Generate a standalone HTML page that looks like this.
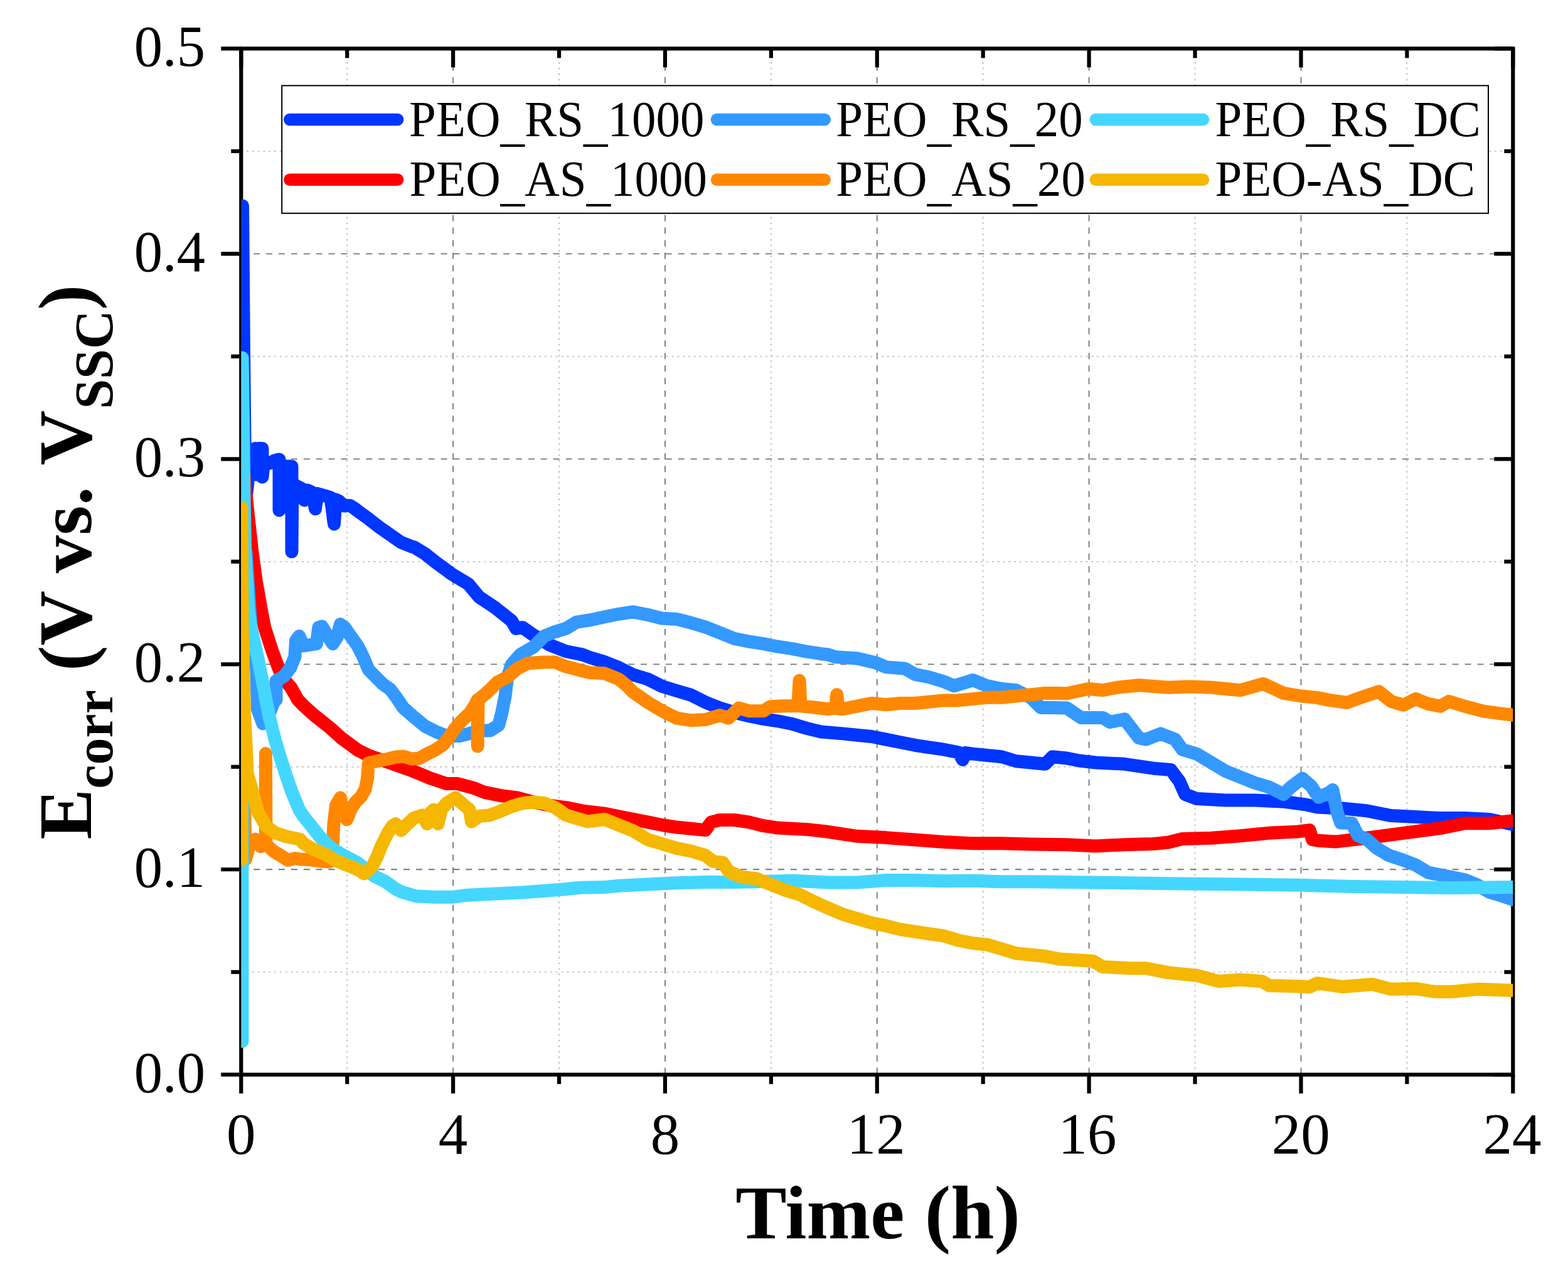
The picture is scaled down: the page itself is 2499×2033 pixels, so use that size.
<!DOCTYPE html>
<html><head><meta charset="utf-8"><title>Ecorr vs Time</title><style>html,body{margin:0;padding:0;background:#fff;overflow:hidden}svg{display:block}</style></head><body>
<svg xmlns="http://www.w3.org/2000/svg" width="2499" height="2033" viewBox="0 0 2499 2033" font-family="Liberation Serif, Times New Roman, serif">
<rect width="2499" height="2033" fill="#fff"/>
<defs><clipPath id="pc"><rect x="384.3" y="77.4" width="2027.0000000000002" height="1634.8"/></clipPath></defs>
<g><line x1="553.22" y1="1712.2" x2="553.22" y2="77.4" stroke="#bdbdbd" stroke-width="1.8" stroke-dasharray="2.8 6"/><line x1="722.13" y1="1712.2" x2="722.13" y2="77.4" stroke="#747474" stroke-width="1.8" stroke-dasharray="9.99 9.99" stroke-dashoffset="-1"/><line x1="891.05" y1="1712.2" x2="891.05" y2="77.4" stroke="#bdbdbd" stroke-width="1.8" stroke-dasharray="2.8 6"/><line x1="1059.97" y1="1712.2" x2="1059.97" y2="77.4" stroke="#747474" stroke-width="1.8" stroke-dasharray="9.99 9.99" stroke-dashoffset="-1"/><line x1="1228.88" y1="1712.2" x2="1228.88" y2="77.4" stroke="#bdbdbd" stroke-width="1.8" stroke-dasharray="2.8 6"/><line x1="1397.80" y1="1712.2" x2="1397.80" y2="77.4" stroke="#747474" stroke-width="1.8" stroke-dasharray="9.99 9.99" stroke-dashoffset="-1"/><line x1="1566.72" y1="1712.2" x2="1566.72" y2="77.4" stroke="#bdbdbd" stroke-width="1.8" stroke-dasharray="2.8 6"/><line x1="1735.63" y1="1712.2" x2="1735.63" y2="77.4" stroke="#747474" stroke-width="1.8" stroke-dasharray="9.99 9.99" stroke-dashoffset="-1"/><line x1="1904.55" y1="1712.2" x2="1904.55" y2="77.4" stroke="#bdbdbd" stroke-width="1.8" stroke-dasharray="2.8 6"/><line x1="2073.47" y1="1712.2" x2="2073.47" y2="77.4" stroke="#747474" stroke-width="1.8" stroke-dasharray="9.99 9.99" stroke-dashoffset="-1"/><line x1="2242.38" y1="1712.2" x2="2242.38" y2="77.4" stroke="#bdbdbd" stroke-width="1.8" stroke-dasharray="2.8 6"/><line x1="384.3" y1="1548.72" x2="2411.3" y2="1548.72" stroke="#bdbdbd" stroke-width="1.8" stroke-dasharray="2.8 6"/><line x1="384.3" y1="1385.24" x2="2411.3" y2="1385.24" stroke="#747474" stroke-width="1.8" stroke-dasharray="9.95 9.95"/><line x1="384.3" y1="1221.76" x2="2411.3" y2="1221.76" stroke="#bdbdbd" stroke-width="1.8" stroke-dasharray="2.8 6"/><line x1="384.3" y1="1058.28" x2="2411.3" y2="1058.28" stroke="#747474" stroke-width="1.8" stroke-dasharray="9.95 9.95"/><line x1="384.3" y1="894.80" x2="2411.3" y2="894.80" stroke="#bdbdbd" stroke-width="1.8" stroke-dasharray="2.8 6"/><line x1="384.3" y1="731.32" x2="2411.3" y2="731.32" stroke="#747474" stroke-width="1.8" stroke-dasharray="9.95 9.95"/><line x1="384.3" y1="567.84" x2="2411.3" y2="567.84" stroke="#bdbdbd" stroke-width="1.8" stroke-dasharray="2.8 6"/><line x1="384.3" y1="404.36" x2="2411.3" y2="404.36" stroke="#747474" stroke-width="1.8" stroke-dasharray="9.95 9.95"/><line x1="384.3" y1="240.88" x2="2411.3" y2="240.88" stroke="#bdbdbd" stroke-width="1.8" stroke-dasharray="2.8 6"/></g>
<g><rect x="384.3" y="77.4" width="2027.0000000000002" height="1634.8" fill="none" stroke="#000" stroke-width="6.2" stroke-linejoin="miter"/><line x1="384.30" y1="1712.2" x2="384.30" y2="1742.2" stroke="#000" stroke-width="6.2"/><line x1="384.30" y1="77.4" x2="384.30" y2="107.4" stroke="#000" stroke-width="6.2"/><line x1="553.22" y1="1712.2" x2="553.22" y2="1727.2" stroke="#000" stroke-width="6.2"/><line x1="553.22" y1="77.4" x2="553.22" y2="92.4" stroke="#000" stroke-width="6.2"/><line x1="722.13" y1="1712.2" x2="722.13" y2="1742.2" stroke="#000" stroke-width="6.2"/><line x1="722.13" y1="77.4" x2="722.13" y2="107.4" stroke="#000" stroke-width="6.2"/><line x1="891.05" y1="1712.2" x2="891.05" y2="1727.2" stroke="#000" stroke-width="6.2"/><line x1="891.05" y1="77.4" x2="891.05" y2="92.4" stroke="#000" stroke-width="6.2"/><line x1="1059.97" y1="1712.2" x2="1059.97" y2="1742.2" stroke="#000" stroke-width="6.2"/><line x1="1059.97" y1="77.4" x2="1059.97" y2="107.4" stroke="#000" stroke-width="6.2"/><line x1="1228.88" y1="1712.2" x2="1228.88" y2="1727.2" stroke="#000" stroke-width="6.2"/><line x1="1228.88" y1="77.4" x2="1228.88" y2="92.4" stroke="#000" stroke-width="6.2"/><line x1="1397.80" y1="1712.2" x2="1397.80" y2="1742.2" stroke="#000" stroke-width="6.2"/><line x1="1397.80" y1="77.4" x2="1397.80" y2="107.4" stroke="#000" stroke-width="6.2"/><line x1="1566.72" y1="1712.2" x2="1566.72" y2="1727.2" stroke="#000" stroke-width="6.2"/><line x1="1566.72" y1="77.4" x2="1566.72" y2="92.4" stroke="#000" stroke-width="6.2"/><line x1="1735.63" y1="1712.2" x2="1735.63" y2="1742.2" stroke="#000" stroke-width="6.2"/><line x1="1735.63" y1="77.4" x2="1735.63" y2="107.4" stroke="#000" stroke-width="6.2"/><line x1="1904.55" y1="1712.2" x2="1904.55" y2="1727.2" stroke="#000" stroke-width="6.2"/><line x1="1904.55" y1="77.4" x2="1904.55" y2="92.4" stroke="#000" stroke-width="6.2"/><line x1="2073.47" y1="1712.2" x2="2073.47" y2="1742.2" stroke="#000" stroke-width="6.2"/><line x1="2073.47" y1="77.4" x2="2073.47" y2="107.4" stroke="#000" stroke-width="6.2"/><line x1="2242.38" y1="1712.2" x2="2242.38" y2="1727.2" stroke="#000" stroke-width="6.2"/><line x1="2242.38" y1="77.4" x2="2242.38" y2="92.4" stroke="#000" stroke-width="6.2"/><line x1="2411.30" y1="1712.2" x2="2411.30" y2="1742.2" stroke="#000" stroke-width="6.2"/><line x1="2411.30" y1="77.4" x2="2411.30" y2="107.4" stroke="#000" stroke-width="6.2"/><line x1="384.3" y1="1712.20" x2="352.3" y2="1712.20" stroke="#000" stroke-width="6.2"/><line x1="2411.3" y1="1712.20" x2="2381.3" y2="1712.20" stroke="#000" stroke-width="6.2"/><line x1="384.3" y1="1548.72" x2="368.3" y2="1548.72" stroke="#000" stroke-width="6.2"/><line x1="2411.3" y1="1548.72" x2="2397.3" y2="1548.72" stroke="#000" stroke-width="6.2"/><line x1="384.3" y1="1385.24" x2="352.3" y2="1385.24" stroke="#000" stroke-width="6.2"/><line x1="2411.3" y1="1385.24" x2="2381.3" y2="1385.24" stroke="#000" stroke-width="6.2"/><line x1="384.3" y1="1221.76" x2="368.3" y2="1221.76" stroke="#000" stroke-width="6.2"/><line x1="2411.3" y1="1221.76" x2="2397.3" y2="1221.76" stroke="#000" stroke-width="6.2"/><line x1="384.3" y1="1058.28" x2="352.3" y2="1058.28" stroke="#000" stroke-width="6.2"/><line x1="2411.3" y1="1058.28" x2="2381.3" y2="1058.28" stroke="#000" stroke-width="6.2"/><line x1="384.3" y1="894.80" x2="368.3" y2="894.80" stroke="#000" stroke-width="6.2"/><line x1="2411.3" y1="894.80" x2="2397.3" y2="894.80" stroke="#000" stroke-width="6.2"/><line x1="384.3" y1="731.32" x2="352.3" y2="731.32" stroke="#000" stroke-width="6.2"/><line x1="2411.3" y1="731.32" x2="2381.3" y2="731.32" stroke="#000" stroke-width="6.2"/><line x1="384.3" y1="567.84" x2="368.3" y2="567.84" stroke="#000" stroke-width="6.2"/><line x1="2411.3" y1="567.84" x2="2397.3" y2="567.84" stroke="#000" stroke-width="6.2"/><line x1="384.3" y1="404.36" x2="352.3" y2="404.36" stroke="#000" stroke-width="6.2"/><line x1="2411.3" y1="404.36" x2="2381.3" y2="404.36" stroke="#000" stroke-width="6.2"/><line x1="384.3" y1="240.88" x2="368.3" y2="240.88" stroke="#000" stroke-width="6.2"/><line x1="2411.3" y1="240.88" x2="2397.3" y2="240.88" stroke="#000" stroke-width="6.2"/><line x1="384.3" y1="77.40" x2="352.3" y2="77.40" stroke="#000" stroke-width="6.2"/><line x1="2411.3" y1="77.40" x2="2381.3" y2="77.40" stroke="#000" stroke-width="6.2"/></g>
<g clip-path="url(#pc)"><path d="M386.5,328.0 L388.5,560.0 L390.0,700.0 L393.0,786.0 L398.0,740.0 L407.0,714.5 L407.0,756.0 L412.0,714.5 L418.0,714.5 L418.0,760.0 L420.0,740.0 L430.0,738.0 L437.0,734.0 L445.0,732.0 L445.0,813.0 L446.0,740.0 L455.0,743.0 L465.0,743.0 L465.0,879.0 L466.0,770.0 L472.6,774.5 L480.0,778.0 L485.0,797.0 L490.0,781.0 L498.0,784.8 L502.5,810.7 L506.0,786.5 L519.8,790.5 L527.0,793.0 L532.5,835.0 L535.0,796.0 L540.6,798.6 L548.6,806.0 L557.9,805.5 L565.0,810.0 L570.0,814.0 L584.0,824.0 L604.6,840.0 L639.0,864.0 L656.5,871.0 L660.0,871.8 L677.3,882.2 L694.6,896.0 L720.5,915.0 L746.4,930.6 L763.7,951.3 L789.6,968.6 L815.5,989.3 L822.4,1001.4 L832.8,999.7 L850.1,1011.8 L876.0,1027.4 L901.9,1037.7 L927.8,1042.9 L940.0,1047.5 L963.0,1054.4 L986.1,1063.6 L1009.1,1075.1 L1032.2,1082.0 L1055.2,1093.5 L1078.2,1100.5 L1101.3,1107.4 L1124.3,1118.9 L1147.4,1128.1 L1170.4,1135.0 L1193.5,1140.8 L1216.5,1145.4 L1239.5,1148.8 L1262.6,1153.5 L1285.6,1160.4 L1308.7,1166.0 L1343.0,1168.9 L1366.1,1171.2 L1389.1,1173.5 L1412.2,1178.1 L1435.2,1182.7 L1458.2,1187.3 L1481.3,1190.8 L1504.3,1194.2 L1527.4,1198.8 L1534.3,1210.4 L1538.0,1199.5 L1550.4,1201.1 L1573.5,1203.5 L1596.5,1205.8 L1619.5,1212.7 L1642.6,1215.0 L1665.6,1217.3 L1677.1,1205.8 L1700.2,1208.0 L1720.0,1212.0 L1746.1,1215.0 L1792.2,1217.3 L1838.2,1224.2 L1865.9,1226.5 L1879.7,1244.9 L1888.9,1265.7 L1907.4,1272.6 L1953.5,1274.9 L1999.5,1274.9 L2045.6,1277.2 L2080.2,1281.8 L2099.6,1285.9 L2138.8,1287.9 L2177.9,1291.8 L2217.1,1299.6 L2256.3,1301.6 L2295.4,1303.6 L2334.6,1303.6 L2373.8,1305.5 L2411.0,1313.4" fill="none" stroke="#0036ff" stroke-width="21" stroke-linecap="round" stroke-linejoin="round"/><path d="M387.0,738.0 L389.5,760.0 L395.0,816.5 L402.0,880.0 L408.3,926.0 L416.4,972.0 L421.9,1000.0 L427.6,1018.0 L433.5,1036.0 L443.8,1064.0 L450.1,1080.0 L463.5,1095.0 L474.9,1115.2 L483.7,1124.2 L501.0,1139.7 L526.9,1160.4 L544.2,1176.0 L570.0,1195.0 L587.4,1203.6 L621.9,1215.7 L656.5,1227.8 L685.9,1240.0 L711.8,1248.6 L729.1,1248.6 L755.0,1255.5 L772.3,1262.4 L798.2,1267.6 L824.2,1271.0 L850.1,1278.0 L876.0,1283.2 L901.9,1286.6 L927.8,1291.8 L963.0,1296.1 L986.1,1300.7 L1009.1,1305.3 L1032.2,1309.9 L1055.2,1314.5 L1078.2,1318.0 L1101.3,1320.3 L1124.3,1322.6 L1133.5,1309.9 L1147.4,1306.5 L1170.4,1306.5 L1193.5,1309.9 L1216.5,1315.7 L1239.5,1319.1 L1262.6,1320.3 L1285.6,1321.4 L1320.0,1325.3 L1366.1,1332.3 L1412.2,1334.6 L1458.2,1338.0 L1504.3,1341.5 L1550.4,1343.8 L1596.5,1343.8 L1642.6,1344.9 L1700.0,1345.7 L1746.1,1348.0 L1792.2,1345.7 L1838.2,1344.5 L1861.3,1342.2 L1884.3,1336.5 L1930.4,1335.3 L1976.5,1331.8 L2022.6,1327.2 L2068.7,1324.9 L2087.1,1322.6 L2091.7,1337.6 L2100.0,1339.2 L2129.0,1341.1 L2177.9,1335.3 L2236.7,1327.4 L2295.4,1319.6 L2334.6,1311.8 L2373.8,1311.8 L2411.0,1307.8" fill="none" stroke="#ff0000" stroke-width="21" stroke-linecap="round" stroke-linejoin="round"/><path d="M392.0,880.0 L400.0,1000.0 L406.0,1040.0 L409.0,1069.0 L410.5,1130.0 L419.0,1153.0 L428.0,1140.0 L437.0,1117.0 L440.0,1115.0 L440.0,1085.0 L452.6,1077.5 L463.0,1063.7 L469.9,1046.4 L471.6,1020.5 L476.8,1013.6 L483.7,1029.0 L504.4,1025.7 L507.9,999.7 L513.0,998.0 L521.7,1011.8 L530.3,1025.7 L537.2,1015.3 L542.4,994.6 L549.3,999.7 L561.4,1017.0 L570.0,1029.0 L578.7,1046.4 L587.4,1067.0 L597.7,1077.5 L609.8,1089.6 L621.9,1098.2 L632.3,1112.0 L642.7,1127.6 L656.5,1139.7 L677.3,1157.0 L694.6,1165.7 L711.8,1172.6 L732.6,1172.6 L746.4,1169.1 L763.7,1164.0 L781.0,1164.0 L794.8,1155.3 L800.0,1134.6 L805.2,1108.6 L808.6,1079.2 L815.5,1058.5 L829.3,1042.9 L850.1,1030.8 L867.4,1013.5 L884.6,1006.6 L901.9,1001.4 L919.2,991.1 L940.0,988.0 L963.0,983.0 L986.1,978.3 L1009.1,974.9 L1032.2,979.5 L1055.2,985.3 L1078.2,986.4 L1101.3,992.2 L1124.3,999.1 L1147.4,1008.3 L1170.4,1017.5 L1193.5,1022.1 L1216.5,1025.6 L1239.5,1030.2 L1262.6,1033.6 L1285.6,1038.2 L1308.7,1041.7 L1320.0,1043.0 L1331.5,1046.8 L1366.1,1049.1 L1396.0,1056.0 L1412.2,1062.9 L1442.1,1065.2 L1458.2,1074.4 L1481.3,1079.0 L1504.3,1086.0 L1520.5,1092.9 L1550.4,1083.6 L1573.5,1092.9 L1596.5,1097.5 L1619.5,1099.8 L1642.6,1111.3 L1658.7,1127.4 L1677.1,1127.4 L1700.2,1128.0 L1723.0,1143.5 L1757.6,1143.5 L1769.1,1150.5 L1792.2,1145.9 L1815.2,1175.8 L1826.7,1178.1 L1849.8,1168.9 L1872.8,1178.1 L1884.3,1194.2 L1907.4,1201.2 L1930.4,1215.0 L1953.5,1228.8 L1976.5,1238.0 L1999.5,1247.2 L2022.6,1254.1 L2045.6,1265.7 L2057.1,1254.1 L2075.6,1240.3 L2089.8,1252.6 L2101.5,1270.3 L2119.2,1262.4 L2124.0,1258.5 L2131.0,1293.8 L2136.8,1311.0 L2154.4,1311.4 L2164.2,1331.3 L2177.9,1337.0 L2193.6,1350.9 L2213.2,1362.7 L2236.7,1370.5 L2256.3,1378.3 L2275.8,1390.1 L2295.4,1394.0 L2315.0,1397.9 L2334.6,1401.8 L2354.2,1409.7 L2373.8,1421.4 L2393.4,1427.3 L2411.0,1433.2" fill="none" stroke="#3399ff" stroke-width="21" stroke-linecap="round" stroke-linejoin="round"/><path d="M386.5,800.0 L387.5,1200.0 L391.5,1369.0 L398.0,1345.0 L406.8,1337.3 L415.5,1348.8 L423.4,1345.0 L423.4,1200.6 L424.0,1345.0 L435.6,1356.0 L450.0,1364.7 L458.7,1370.5 L470.2,1367.6 L478.0,1369.0 L492.3,1369.6 L509.6,1372.2 L525.2,1373.0 L530.0,1350.0 L532.0,1312.6 L535.5,1283.2 L542.4,1271.1 L545.9,1291.8 L552.8,1305.7 L559.7,1288.4 L566.6,1278.0 L575.3,1269.4 L582.2,1257.3 L585.6,1240.0 L587.4,1215.7 L599.0,1213.0 L618.0,1209.2 L630.7,1206.0 L643.4,1205.3 L656.0,1209.2 L668.7,1208.0 L681.0,1201.0 L693.0,1195.3 L705.9,1186.7 L716.3,1173.7 L724.9,1160.8 L736.2,1147.8 L749.1,1135.7 L757.8,1121.9 L761.2,1115.0 L761.2,1189.0 L762.0,1115.0 L766.4,1111.5 L779.4,1100.3 L792.4,1087.3 L809.6,1078.0 L824.2,1065.4 L841.4,1056.7 L867.4,1055.0 L884.6,1055.0 L901.9,1061.9 L927.8,1068.8 L940.0,1071.7 L963.0,1072.8 L986.1,1082.0 L997.6,1091.2 L1009.1,1102.8 L1032.2,1118.9 L1055.2,1132.7 L1078.2,1144.2 L1101.3,1147.7 L1124.3,1146.5 L1147.4,1139.6 L1161.2,1144.2 L1177.3,1128.1 L1193.5,1132.7 L1216.5,1132.7 L1228.0,1125.8 L1251.0,1124.7 L1271.8,1124.7 L1274.1,1084.3 L1276.0,1124.7 L1297.1,1127.0 L1320.0,1129.7 L1331.5,1128.0 L1333.8,1106.7 L1336.0,1129.0 L1343.0,1129.7 L1366.1,1125.1 L1389.1,1120.5 L1412.2,1122.8 L1435.2,1120.5 L1458.2,1120.5 L1481.3,1118.2 L1504.3,1115.9 L1527.4,1115.9 L1550.4,1113.6 L1573.5,1111.3 L1596.5,1111.3 L1619.5,1109.0 L1642.6,1106.7 L1665.6,1104.4 L1688.7,1104.4 L1700.0,1105.0 L1734.6,1097.5 L1757.6,1099.8 L1780.6,1095.2 L1815.2,1091.7 L1861.3,1095.2 L1895.9,1094.0 L1930.4,1095.2 L1976.5,1099.8 L2013.4,1089.4 L2045.6,1104.4 L2073.3,1109.0 L2099.6,1111.6 L2119.2,1115.6 L2146.6,1119.5 L2168.1,1111.6 L2197.5,1101.8 L2217.1,1117.5 L2236.7,1123.4 L2256.3,1113.6 L2275.8,1121.4 L2295.4,1125.3 L2309.1,1117.5 L2334.6,1125.3 L2364.0,1133.2 L2393.4,1137.1 L2411.0,1139.1" fill="none" stroke="#ff8800" stroke-width="21" stroke-linecap="round" stroke-linejoin="round"/><path d="M386.0,1659.0 L386.0,570.0 L388.0,700.0 L389.0,792.0 L390.7,880.0 L396.0,972.0 L400.0,1000.0 L410.3,1046.0 L419.6,1092.0 L428.2,1138.0 L438.7,1180.0 L447.0,1207.6 L455.9,1235.3 L465.6,1262.9 L477.0,1290.6 L483.7,1300.5 L497.5,1317.8 L511.3,1335.0 L526.9,1350.6 L544.2,1361.0 L570.0,1374.8 L596.0,1395.5 L613.3,1404.2 L630.6,1416.3 L640.0,1421.0 L662.5,1427.7 L692.5,1429.2 L722.5,1429.2 L745.0,1426.2 L775.0,1424.7 L805.0,1423.2 L835.0,1421.7 L865.0,1419.5 L895.0,1417.2 L925.0,1414.2 L963.0,1413.6 L986.1,1411.3 L1032.2,1409.0 L1078.2,1406.7 L1124.3,1405.5 L1170.4,1405.5 L1216.5,1404.4 L1262.6,1403.2 L1320.0,1406.0 L1366.1,1406.0 L1412.2,1402.5 L1458.2,1402.5 L1504.3,1403.7 L1550.4,1403.2 L1596.5,1404.8 L1642.6,1404.8 L1700.0,1405.6 L1792.2,1406.7 L1884.3,1407.9 L1976.5,1409.0 L2068.7,1410.2 L2158.3,1412.6 L2236.7,1413.6 L2315.0,1414.6 L2411.0,1413.6" fill="none" stroke="#45d6ff" stroke-width="21" stroke-linecap="round" stroke-linejoin="round"/><path d="M384.5,1370.0 L385.0,809.0 L386.0,1000.0 L388.5,1100.0 L389.5,1140.0 L392.0,1186.0 L394.0,1232.0 L399.6,1251.0 L411.0,1294.0 L424.0,1316.0 L438.5,1327.0 L457.0,1333.0 L478.0,1337.3 L483.7,1343.7 L501.0,1354.0 L518.2,1361.0 L535.5,1371.3 L552.8,1378.2 L570.0,1385.2 L580.4,1392.0 L592.5,1381.7 L601.2,1364.4 L608.1,1347.1 L618.5,1326.4 L625.4,1316.0 L630.6,1312.6 L639.2,1323.0 L649.6,1312.6 L660.0,1303.0 L673.8,1298.7 L680.7,1312.5 L686.0,1295.0 L691.1,1290.0 L698.0,1312.5 L703.2,1290.0 L711.8,1279.7 L725.7,1271.0 L737.8,1281.4 L748.1,1290.0 L751.6,1309.0 L763.7,1300.4 L781.0,1298.7 L794.8,1293.5 L815.5,1284.9 L832.8,1279.7 L850.1,1278.0 L867.4,1279.7 L884.6,1286.6 L901.9,1298.7 L919.2,1303.9 L936.5,1309.0 L963.0,1305.3 L986.1,1314.5 L1009.1,1323.7 L1032.2,1337.6 L1055.2,1344.5 L1078.2,1351.4 L1101.3,1356.0 L1124.3,1362.9 L1135.9,1372.1 L1152.0,1374.4 L1161.2,1388.2 L1181.9,1397.5 L1205.0,1399.8 L1228.0,1409.0 L1251.0,1418.2 L1274.1,1425.1 L1297.1,1436.6 L1320.2,1447.0 L1343.0,1456.7 L1366.1,1463.6 L1389.1,1470.5 L1412.2,1475.1 L1435.2,1480.9 L1458.2,1484.3 L1481.3,1487.8 L1504.3,1491.2 L1527.4,1498.2 L1550.4,1502.8 L1573.5,1505.1 L1596.5,1512.0 L1619.5,1518.9 L1642.6,1521.2 L1665.6,1523.5 L1688.7,1528.1 L1700.0,1528.8 L1741.5,1531.2 L1757.6,1540.4 L1803.7,1542.7 L1826.7,1542.7 L1861.3,1549.6 L1907.4,1554.2 L1941.9,1563.4 L1976.5,1561.1 L2011.1,1563.4 L2022.6,1570.3 L2068.7,1571.5 L2087.1,1572.6 L2099.6,1566.4 L2138.8,1572.2 L2187.7,1568.3 L2217.1,1576.1 L2256.3,1575.2 L2285.6,1580.0 L2315.0,1580.0 L2354.2,1576.1 L2411.0,1578.1" fill="none" stroke="#f5b700" stroke-width="21" stroke-linecap="round" stroke-linejoin="round"/></g>
<g><rect x="449.2" y="136.4" width="1922.8" height="203.4" fill="#fff" stroke="#000" stroke-width="2"/><line x1="461.9" y1="190.5" x2="633.6" y2="190.5" stroke="#0036ff" stroke-width="19.6" stroke-linecap="round"/><text transform="translate(652.08,216.90) scale(0.9620,1)" font-size="80" >PEO<tspan dy="7">_</tspan><tspan dy="-7">RS</tspan><tspan dy="7">_</tspan><tspan dy="-7">1000</tspan></text><line x1="1142.6" y1="190.5" x2="1314.2" y2="190.5" stroke="#3399ff" stroke-width="19.6" stroke-linecap="round"/><text transform="translate(1332.28,216.90) scale(0.9620,1)" font-size="80" >PEO<tspan dy="7">_</tspan><tspan dy="-7">RS</tspan><tspan dy="7">_</tspan><tspan dy="-7">20</tspan></text><line x1="1746.4" y1="190.5" x2="1917.4" y2="190.5" stroke="#45d6ff" stroke-width="19.6" stroke-linecap="round"/><text transform="translate(1936.38,216.90) scale(0.9620,1)" font-size="80" >PEO<tspan dy="7">_</tspan><tspan dy="-7">RS</tspan><tspan dy="7">_</tspan><tspan dy="-7">DC</tspan></text><line x1="461.9" y1="286.3" x2="633.6" y2="286.3" stroke="#ff0000" stroke-width="19.6" stroke-linecap="round"/><text transform="translate(652.38,312.00) scale(0.9620,1)" font-size="80" >PEO<tspan dy="7">_</tspan><tspan dy="-7">AS</tspan><tspan dy="7">_</tspan><tspan dy="-7">1000</tspan></text><line x1="1142.6" y1="286.3" x2="1314.2" y2="286.3" stroke="#ff8800" stroke-width="19.6" stroke-linecap="round"/><text transform="translate(1332.28,312.00) scale(0.9620,1)" font-size="80" >PEO<tspan dy="7">_</tspan><tspan dy="-7">AS</tspan><tspan dy="7">_</tspan><tspan dy="-7">20</tspan></text><line x1="1746.4" y1="286.3" x2="1917.4" y2="286.3" stroke="#f5b700" stroke-width="19.6" stroke-linecap="round"/><text transform="translate(1936.38,312.00) scale(0.9620,1)" font-size="80" >PEO-AS<tspan dy="7">_</tspan><tspan dy="-7">DC</tspan></text></g>
<g><text transform="translate(213.75,1740.00) scale(0.9650,1)" font-size="94" >0.0</text><text transform="translate(213.75,1413.04) scale(0.9650,1)" font-size="94" >0.1</text><text transform="translate(213.75,1086.08) scale(0.9650,1)" font-size="94" >0.2</text><text transform="translate(213.75,759.12) scale(0.9650,1)" font-size="94" >0.3</text><text transform="translate(213.75,432.16) scale(0.9650,1)" font-size="94" >0.4</text><text transform="translate(213.75,105.20) scale(0.9650,1)" font-size="94" >0.5</text><text transform="translate(361.03,1838.00) scale(0.9900,1)" font-size="94" >0</text><text transform="translate(698.69,1838.00) scale(0.9900,1)" font-size="94" >4</text><text transform="translate(1036.70,1838.00) scale(0.9900,1)" font-size="94" >8</text><text transform="translate(1349.75,1838.00) scale(0.9900,1)" font-size="94" >12</text><text transform="translate(1686.40,1838.00) scale(0.9900,1)" font-size="94" >16</text><text transform="translate(2026.66,1838.00) scale(0.9900,1)" font-size="94" >20</text><text transform="translate(2363.45,1838.00) scale(0.9900,1)" font-size="94" >24</text></g>
<g><text transform="translate(1172.19,1973.00) scale(1.0183,1)" font-size="120" font-weight="bold" >Time</text><text transform="translate(1473.73,1973.00) scale(1.0381,1)" font-size="120" font-weight="bold" >(h)</text><text transform="translate(145.3,1337.4) rotate(-90)" font-size="121" font-weight="bold">E<tspan font-size="86" dy="34">corr</tspan><tspan dy="-34"> (V vs. </tspan><tspan dx="6">V</tspan><tspan font-size="86" dy="34" dx="2">SSC</tspan><tspan dy="-34">)</tspan></text></g>
</svg>
</body></html>
